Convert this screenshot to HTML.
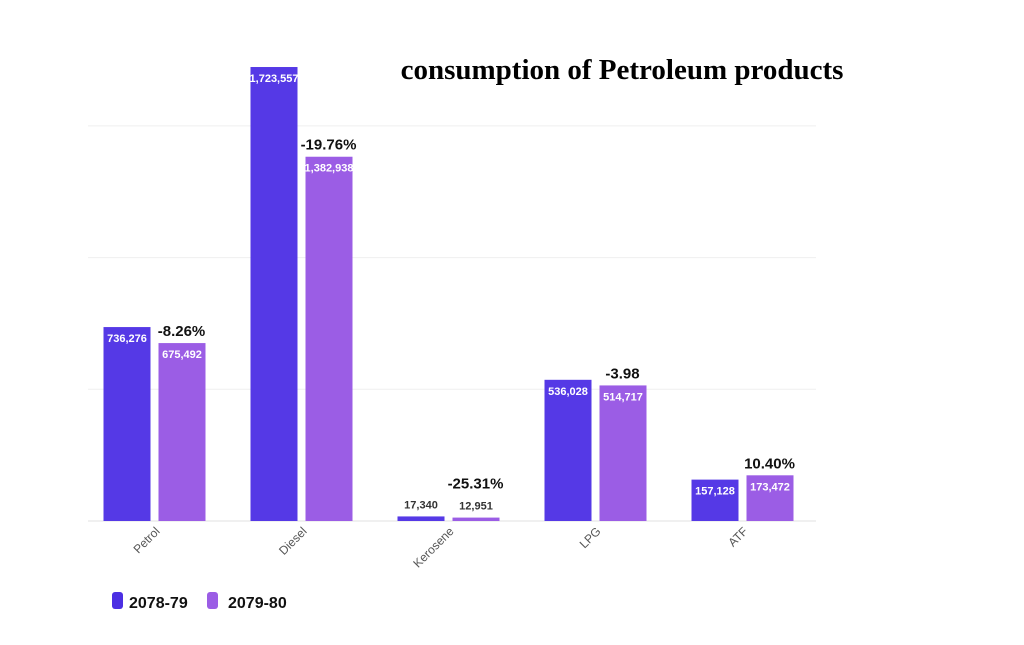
<!DOCTYPE html>
<html><head><meta charset="utf-8"><style>
body{margin:0;background:#fff;width:1024px;height:640px;overflow:hidden;font-family:"Liberation Sans",sans-serif}
</style></head><body>
<svg width="1024" height="640">
<text x="622" y="79" text-anchor="middle" font-family="Liberation Serif, serif" font-weight="bold" font-size="29" fill="#000">consumption of Petroleum products</text>
<g id="grid"></g><g id="bars"></g><g id="labels"></g>
<g>
<rect x="112" y="592" width="11" height="17" rx="3" fill="#4c2fe3"/>
<text x="129" y="608" font-weight="bold" font-size="16" fill="#111">2078-79</text>
<rect x="207" y="592" width="11" height="17" rx="3" fill="#9b5de5"/>
<text x="228" y="608" font-weight="bold" font-size="16" fill="#111">2079-80</text>
</g>
</svg>
<script>
const categories=["Petrol","Diesel","Kerosene","LPG","ATF"];
const series1=[736276,1723557,17340,536028,157128];
const series2=[675492,1382938,12951,514717,173472];
const changes=["-8.26%","-19.76%","-25.31%","-3.98","10.40%"];
const gridTicks=[0,500000,1000000,1500000];
const NS="http://www.w3.org/2000/svg";
const y0=521,pxPer=131.7/500000,x0=81,step=147;
const yS=v=>y0-v*pxPer;
const xC=i=>x0+step*(i+0.5);
function mk(t,a,p){const e=document.createElementNS(NS,t);for(const k in a)e.setAttribute(k,a[k]);p.appendChild(e);return e;}
const G=document.getElementById('grid'),B=document.getElementById('bars'),L=document.getElementById('labels');
gridTicks.forEach(t=>{const l=mk('line',{x1:88,x2:816,y1:yS(t),y2:yS(t),stroke:t==0?'#e2e2e2':'#efefef','stroke-width':1},G);

});
const fmt=v=>v.toLocaleString('en-US');
categories.forEach((c,i)=>{
 const cx=xC(i);
 [[series1[i],'#5539e6',cx-51],[series2[i],'#9b5de5',cx+4]].forEach((s,j)=>{
  const top=yS(s[0]);
  const r=mk('rect',{x:s[2],y:top,width:47,height:y0-top,fill:s[1]},B);
  
  
  const small=(y0-top)<20;
  const t=mk('text',{x:s[2]+23.5,y:small?top-8:top+15,'text-anchor':'middle','font-size':11,'font-weight':'bold',fill:small?'#333':'#fff'},L);
  t.textContent=fmt(s[0]);
  
  
 });
 const pTop=yS(series2[i]);const small=(y0-pTop)<20;
 const p=mk('text',{x:cx+27,y:small?pTop-29:pTop-7,'text-anchor':'middle','font-size':15,'font-weight':'bold',fill:'#111'},L);
 p.textContent=changes[i];
 
 
 const xt=mk('text',{x:cx+6,y:532,'text-anchor':'end','font-size':12,fill:'#555',transform:`rotate(-45 ${cx+6} 532)`},L);
 xt.textContent=c;
 
 
});
</script>
</body></html>
